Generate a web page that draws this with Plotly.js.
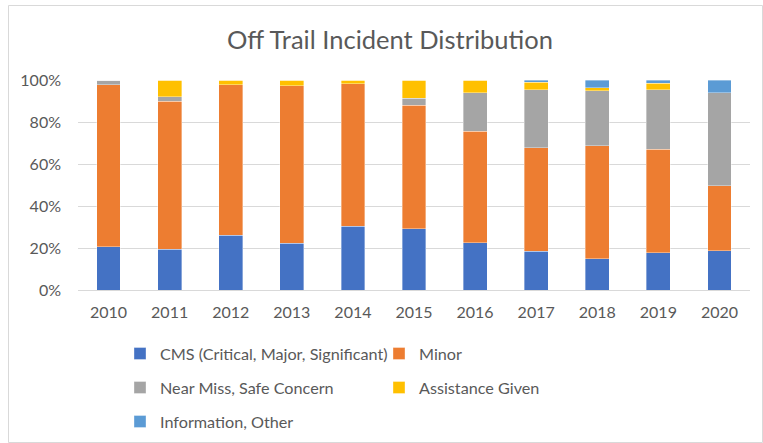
<!DOCTYPE html>
<html>
<head>
<meta charset="utf-8">
<script src="https://cdn.plot.ly/plotly-3.0.1.min.js"></script>
<style>
  html, body { margin: 0; padding: 0; background: #fff; }
  #chart { width: 763px; height: 443px; }
</style>
</head>
<body>
<div id="chart"></div>
<script>
const years = ['2010','2011','2012','2013','2014','2015','2016','2017','2018','2019','2020'];
const cms        = [20.6, 19.4, 26.0, 22.2, 30.3, 29.2, 22.5, 18.4, 14.8, 17.8, 18.6];
const minor      = [77.2, 70.6, 71.8, 75.1, 67.9, 58.7, 53.2, 49.4, 53.9, 49.3, 31.1];
const nearMiss   = [2.2, 2.0, 0, 0, 0, 3.5, 18.3, 27.6, 26.2, 28.3, 44.3];
const assistance = [0, 8.0, 2.2, 2.7, 1.8, 8.6, 6.0, 3.5, 1.3, 3.0, 0];
const info       = [0, 0, 0, 0, 0, 0, 0, 1.1, 3.8, 1.6, 6.0];
const seriesNames = ['CMS (Critical, Major, Significant)', 'Minor', 'Near Miss, Safe Concern', 'Assistance Given', 'Information, Other'];
const yTicks = [0, 20, 40, 60, 80, 100];

const colors = ['#4472C4', '#ED7D31', '#A5A5A5', '#FFC000', '#5B9BD5'];
const legends = ['legend', 'legend', 'legend2', 'legend2', 'legend3'];
const seriesVals = [cms, minor, nearMiss, assistance, info];

const FONT = 'Lato, "Open Sans", sans-serif';
const TXT = '#595959';

const traces = seriesVals.map((vals, i) => ({
  type: 'bar',
  name: seriesNames[i],
  x: years,
  y: vals,
  legend: legends[i],
  marker: { color: colors[i], line: { color: 'rgba(255,255,255,0.6)', width: 0.6 } },
  hoverinfo: 'x+y+name'
}));

const L = 78, R = 750, T = 80, B = 290;
const pw = R - L, ph = B - T;
const px = v => (v - L) / pw;
const py = v => (B - v) / ph;

const legendBase = {
  orientation: 'h',
  entrywidth: 214,
  entrywidthmode: 'pixels',
  xanchor: 'left',
  yanchor: 'middle',
  x: px(120),
  font: { family: FONT, size: 16.2, color: TXT },
  bgcolor: 'rgba(0,0,0,0)',
  traceorder: 'normal'
};

const layout = {
  width: 763,
  height: 443,
  margin: { l: L, r: 763 - R, t: T, b: 443 - B, pad: 0, autoexpand: false },
  paper_bgcolor: '#ffffff',
  plot_bgcolor: '#ffffff',
  barmode: 'stack',
  barnorm: 'percent',
  bargap: 0.61,
  font: { family: FONT, size: 16, color: TXT },
  title: {
    text: 'Off Trail Incident Distribution',
    font: { family: FONT, size: 25.5, color: TXT },
    x: 390 / 763,
    xanchor: 'center',
    xref: 'container',
    y: 1 - 40 / 443,
    yanchor: 'middle',
    yref: 'container'
  },
  xaxis: {
    type: 'category',
    showgrid: false,
    showline: true,
    linecolor: '#D9D9D9',
    linewidth: 1,
    ticks: '',
    ticklabelstandoff: 8,
    tickfont: { family: FONT, size: 16, color: TXT },
    automargin: false,
    fixedrange: true
  },
  yaxis: {
    range: [0, 100],
    tickvals: yTicks,
    ticktext: yTicks.map(v => v + '%'),
    showgrid: true,
    gridcolor: '#D9D9D9',
    gridwidth: 1,
    zeroline: false,
    showline: false,
    ticks: '',
    ticklabelstandoff: 16,
    tickfont: { family: FONT, size: 16, color: TXT },
    automargin: false,
    fixedrange: true
  },
  legend: Object.assign({}, legendBase, { y: py(354) }),
  legend2: Object.assign({}, legendBase, { y: py(388) }),
  legend3: Object.assign({}, legendBase, { y: py(422) }),
  shapes: [{
    type: 'rect', xref: 'paper', yref: 'paper',
    x0: px(8.5), x1: px(762.5), y0: py(442.5), y1: py(5.5),
    line: { color: '#D9D9D9', width: 1 },
    fillcolor: 'rgba(0,0,0,0)',
    layer: 'below'
  }]
};

Plotly.newPlot('chart', traces, layout, { displayModeBar: false, staticPlot: true });
</script>
</body>
</html>
